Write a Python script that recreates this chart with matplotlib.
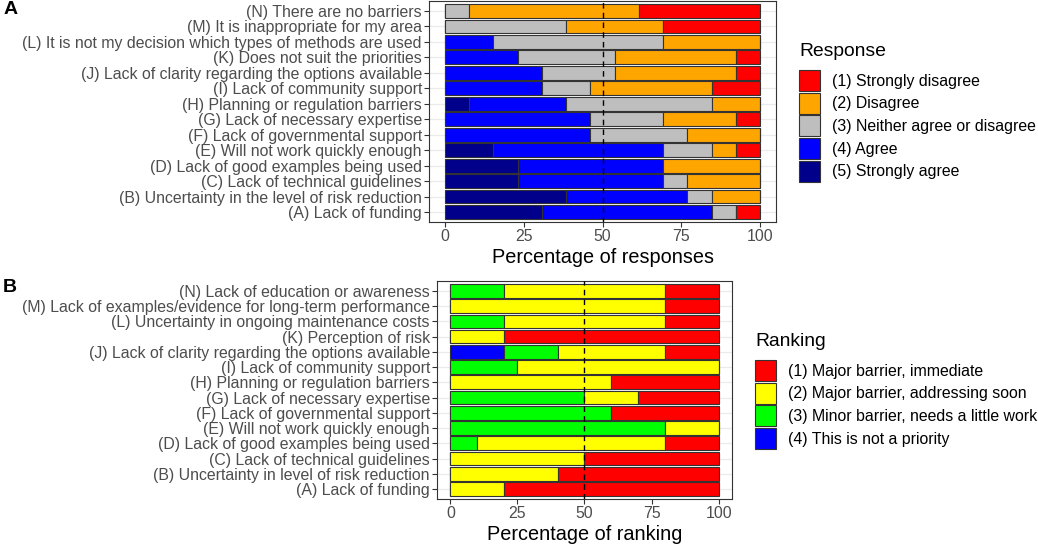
import numpy as np
import matplotlib.pyplot as plt
from matplotlib.patches import Patch

plt.rcParams['font.family'] = ['Liberation Sans', 'DejaVu Sans']

# ---- panel A data (percent of responses), rows (A)..(N) bottom to top
labels_a = ['(A) Lack of funding',
            '(B) Uncertainty in the level of risk reduction',
            '(C) Lack of technical guidelines',
            '(D) Lack of good examples being used',
            '(E) Will not work quickly enough',
            '(F) Lack of governmental support',
            '(G) Lack of necessary expertise',
            '(H) Planning or regulation barriers',
            '(I) Lack of community support',
            '(J) Lack of clarity regarding the options available',
            '(K) Does not suit the priorities',
            '(L) It is not my decision which types of methods are used',
            '(M) It is inappropriate for my area',
            '(N) There are no barriers']
strongly_agree = [30.8, 38.5, 23.1, 23.1, 15.4, 0, 0, 7.7, 0, 0, 0, 0, 0, 0]
agree = [53.8, 38.5, 46.2, 46.2, 53.8, 46.2, 46.2, 30.8, 30.8, 30.8, 23.1, 15.4, 0, 0]
neither = [7.7, 7.7, 7.7, 0, 15.4, 30.8, 23.1, 46.2, 15.4, 23.1, 30.8, 53.8, 38.5, 7.7]
disagree = [0, 15.4, 23.1, 30.8, 7.7, 23.1, 23.1, 15.4, 38.5, 38.5, 38.5, 30.8, 30.8, 53.8]
strongly_disagree = [7.7, 0, 0, 0, 7.7, 0, 7.7, 0, 15.4, 7.7, 7.7, 0, 30.8, 38.5]

resp_names = ['(1) Strongly disagree', '(2) Disagree', '(3) Neither agree or disagree',
              '(4) Agree', '(5) Strongly agree']
resp_cols = ['#FF0000', '#FFA500', '#BEBEBE', '#0000FF', '#00008B']

# ---- panel B data (percent of ranking)
labels_b = ['(A) Lack of funding',
            '(B) Uncertainty in level of risk reduction',
            '(C) Lack of technical guidelines',
            '(D) Lack of good examples being used',
            '(E) Will not work quickly enough',
            '(F) Lack of governmental support',
            '(G) Lack of necessary expertise',
            '(H) Planning or regulation barriers',
            '(I) Lack of community support',
            '(J) Lack of clarity regarding the options available',
            '(K) Perception of risk',
            '(L) Uncertainty in ongoing maintenance costs',
            '(M) Lack of examples/evidence for long-term performance',
            '(N) Lack of education or awareness']
not_priority = [0, 0, 0, 0, 0, 0, 0, 0, 0, 20, 0, 0, 0, 0]
minor = [0, 0, 0, 10, 80, 60, 50, 0, 25, 20, 0, 20, 0, 20]
major_soon = [20, 40, 50, 70, 20, 0, 20, 60, 75, 40, 20, 60, 80, 60]
major_now = [80, 60, 50, 20, 0, 40, 30, 40, 0, 20, 80, 20, 20, 20]

rank_names = ['(1) Major barrier, immediate', '(2) Major barrier, addressing soon',
              '(3) Minor barrier, needs a little work', '(4) This is not a priority']
rank_cols = ['#FF0000', '#FFFF00', '#00FF00', '#0000FF']

TXT = 11.4
GREY30 = '#4D4D4D'
GREY20 = '#333333'


def stacked(ax, series, cols, labels, xlabel):
    data = np.array(series, dtype=float)
    data = data / data.sum(axis=0) * 100   # like position = "fill"
    y = np.arange(len(labels))
    left = np.zeros(len(labels))
    for vals, c in zip(data, cols):
        ax.barh(y, vals, left=left, height=0.9, color=c, edgecolor=GREY20, linewidth=0.8, zorder=2)
        left += vals
    ax.axvline(50, color='black', linestyle=(0, (4, 3)), linewidth=1, zorder=3)
    ax.set_xlim(-5, 105)
    ax.set_ylim(-0.65, len(labels) - 0.35)
    ax.set_yticks(y)
    ax.set_yticklabels(labels)
    ax.set_xticks([0, 25, 50, 75, 100])
    ax.set_xticklabels(['0', '25', '50', '75', '100'])
    ax.grid(axis='y', color='#EBEBEB', linewidth=0.9, zorder=0)
    ax.set_axisbelow(True)
    ax.tick_params(labelsize=TXT, labelcolor=GREY30, color=GREY20, length=3.6, width=0.8, pad=1.5)
    for s in ax.spines.values():
        s.set_color(GREY20)
        s.set_linewidth(0.8)
    ax.set_xlabel(xlabel, fontsize=14.3, labelpad=3)


def add_legend(title, names, cols, x, y_title, y_keys):
    fig.text(x, y_title, title, fontsize=13.9, va='center', ha='left')
    fig.legend(handles=[Patch(facecolor=c, edgecolor=GREY20, linewidth=0.8) for c in cols],
               labels=names, loc='upper left', bbox_to_anchor=(x, y_keys),
               frameon=False, fontsize=TXT,
               handlelength=1.33, handleheight=1.67, labelspacing=0.1, handletextpad=0.75,
               borderpad=0, borderaxespad=0)


plt.close('all')
fig = plt.figure(figsize=(10.38, 5.46), dpi=100)

ax1 = fig.add_axes([0.4133, 0.5934, 0.3343, 0.4048])
stacked(ax1, [strongly_agree, agree, neither, disagree, strongly_disagree],
        resp_cols[::-1], labels_a, 'Percentage of responses')

ax2 = fig.add_axes([0.421, 0.0861, 0.2842, 0.3993])
stacked(ax2, [not_priority, minor, major_soon, major_now],
        rank_cols[::-1], labels_b, 'Percentage of ranking')

add_legend('Response', resp_names, resp_cols, 0.7697, 1 - 52 / 546, 1 - 70 / 546)
add_legend('Ranking', rank_names, rank_cols, 0.7274, 1 - 342 / 546, 1 - 360 / 546)

fig.text(0.003, 1 - 10 / 546, 'A', fontsize=14, fontweight='bold', va='center')
fig.text(0.003, 1 - 288 / 546, 'B', fontsize=14, fontweight='bold', va='center')

fig.savefig('out.png', dpi=100)
